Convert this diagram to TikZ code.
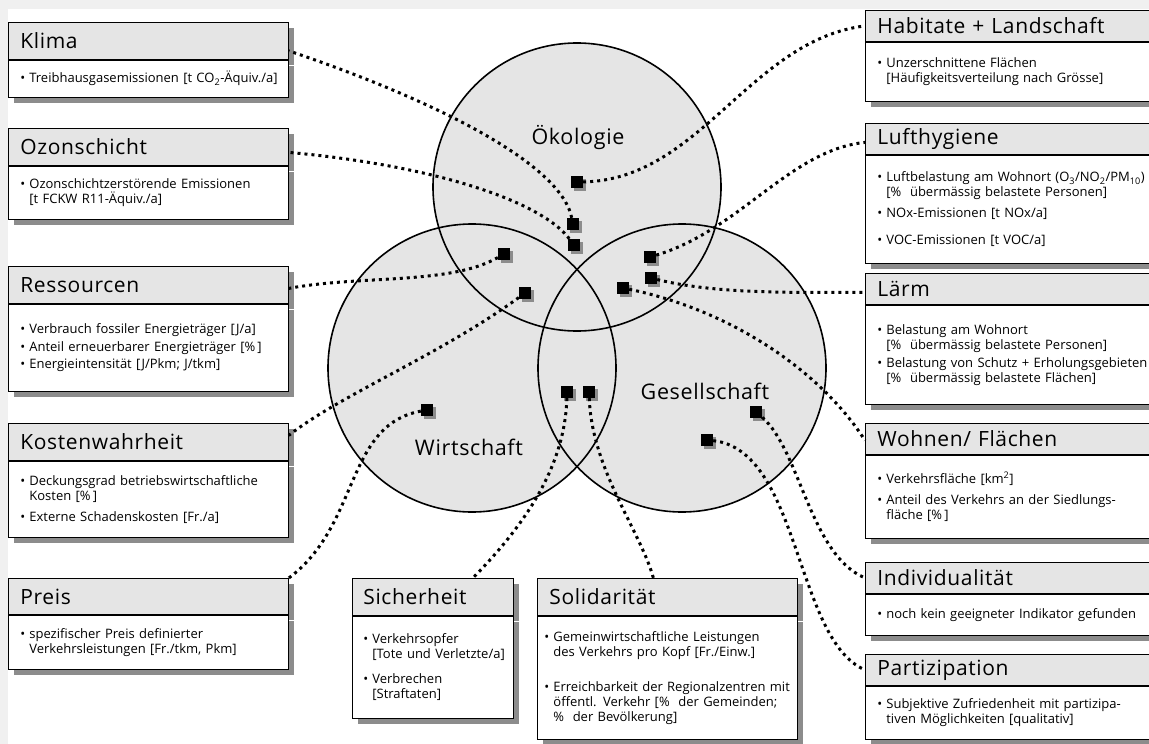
\documentclass[tikz,border=0pt]{standalone}
\usepackage{fontspec}
\setmainfont{Open Sans}
\newfontfamily\headfont{Open Sans}[LetterSpace=3]
\usepackage{tikz}
\usetikzlibrary{shadows}

\definecolor{boxgray}{gray}{0.9}
\definecolor{shadegray}{gray}{0.55}
\definecolor{pagegray}{gray}{0.94}

\newcommand{\itm}{\makebox[9pt][l]{\textbullet}}
\newcommand{\ind}{\hspace*{9pt}}

\tikzset{
  boxshadow/.style={drop shadow={shadow xshift=6pt, shadow yshift=-6pt, fill=shadegray, opacity=1}},
  boxhead/.style={draw, line width=0.8pt, fill=boxgray, anchor=north west, inner xsep=12pt, inner ysep=0pt, align=left, font=\headfont\fontsize{21}{24}\selectfont, boxshadow},
  boxbody/.style={draw, line width=0.8pt, fill=white, anchor=north west, inner xsep=12pt, inner ysep=0pt, align=left, font=\fontsize{13}{15}\selectfont, boxshadow},
  venn/.style={circle, minimum size=288pt, inner sep=0pt},
  venntext/.style={font=\headfont\fontsize{21.5}{24}\selectfont},
  marker/.style={rectangle, fill=black, minimum size=12pt, inner sep=0pt, drop shadow={shadow xshift=2.5pt, shadow yshift=-2.5pt, fill=shadegray, opacity=1}},
  link/.style={line width=3pt, dash pattern=on 3pt off 4pt}
}

\begin{document}
\begin{tikzpicture}[x=1pt, y=-1pt]
    \useasboundingbox (0,0) rectangle (1149,744);
    \clip (0,0) rectangle (1149,744);
    \fill[pagegray] (0,0) rectangle (1149,744);
    \fill[white] (8,9) rectangle (1149,744);

    % the three circles
    \node[venn, fill=boxgray] (oeko) at (577,187) {};
    \node[venn, fill=boxgray] (wirt) at (472,368) {};
    \node[venn, fill=boxgray] (ges) at (682,368) {};
    \node[venn, draw, line width=1.6pt] (oekoR) at (oeko) {};
    \node[venn, draw, line width=1.6pt] (wirtR) at (wirt) {};
    \node[venn, draw, line width=1.6pt] (gesR) at (ges) {};
    \node[venntext] (oekoT) at (578,137) {Ökologie};
    \node[venntext] (wirtT) at (469,447) {Wirtschaft};
    \node[venntext] (gesT) at (705,391) {Gesellschaft};

    % left column
    \node[boxhead, minimum height=37pt, text width=256pt] (klimaH) at (8,22) {Klima};
    \node[boxbody, minimum height=37pt, text width=256pt] (klimaB) at (klimaH.south west)
        {\mbox{\itm Treibhausgasemissionen [t CO\textsubscript{2}-Äquiv./a]}};
    \node[boxhead, minimum height=37pt, text width=256pt] (ozonH) at (8,128) {Ozonschicht};
    \node[boxbody, minimum height=53pt, text width=256pt] (ozonB) at (ozonH.south west)
        {\itm Ozonschichtzerstörende Emissionen\\ \ind[t FCKW R11-Äquiv./a]};
    \node[boxhead, minimum height=37pt, text width=256pt] (ressH) at (8,266) {Ressourcen};
    \node[boxbody, minimum height=87pt, text width=256pt] (ressB) at (ressH.south west)
        {\itm Verbrauch fossiler Energieträger [J/a]\\[2.5pt]
         \itm Anteil erneuerbarer Energieträger [\%\,]\\[2.5pt]
         \itm Energieintensität [J/Pkm; J/tkm]};
    \node[boxhead, minimum height=37pt, text width=256pt] (kostenH) at (8,423) {Kostenwahrheit};
    \node[boxbody, minimum height=76pt, text width=256pt] (kostenB) at (kostenH.south west)
        {\itm Deckungsgrad betriebswirtschaftliche\\ \ind Kosten [\%\,]\\[6pt]
         \itm Externe Schadenskosten [Fr./a]};
    \node[boxhead, minimum height=36pt, text width=256pt] (preisH) at (8,578) {Preis};
    \node[boxbody, minimum height=54pt, text width=256pt] (preisB) at (preisH.south west)
        {\itm spezifischer Preis definierter\\ \ind Verkehrsleistungen [Fr./tkm, Pkm]};

    % right column
    \node[boxhead, minimum height=31pt, text width=271pt] (habH) at (865,10) {Habitate + Landschaft};
    \node[boxbody, minimum height=59pt, text width=271pt] (habB) at (habH.south west)
        {\itm Unzerschnittene Flächen\\ \ind[Häufigkeitsverteilung nach Grösse]};
    \node[boxhead, minimum height=31pt, text width=271pt] (luftH) at (865,123) {Lufthygiene};
    \node[boxbody, minimum height=108pt, text width=271pt] (luftB) at (luftH.south west)
        {\mbox{\itm Luftbelastung am Wohnort (O\textsubscript{3}/NO\textsubscript{2}/PM\textsubscript{10})}\\
         \ind[\%~~übermässig belastete Personen]\\[6pt]
         \itm NOx-Emissionen [t NOx/a]\\[12pt]
         \itm VOC-Emissionen [t VOC/a]};
    \node[boxhead, minimum height=31pt, text width=271pt] (laermH) at (865,273) {Lärm};
    \node[boxbody, minimum height=99pt, text width=271pt] (laermB) at (laermH.south west)
        {\itm Belastung am Wohnort\\ \ind[\%~~übermässig belastete Personen]\\[3pt]
         \mbox{\itm Belastung von Schutz + Erholungsgebieten}\\ \ind[\%~~übermässig belastete Flächen]};
    \node[boxhead, minimum height=31pt, text width=271pt] (wohnenH) at (865,423) {Wohnen/ Flächen};
    \node[boxbody, minimum height=83pt, text width=271pt] (wohnenB) at (wohnenH.south west)
        {\itm Verkehrsfläche [km\textsuperscript{2}]\\[6pt]
         \itm Anteil des Verkehrs an der Siedlungs-\\ \ind fläche [\%\,]};
    \node[boxhead, minimum height=31pt, text width=271pt] (indivH) at (865,562) {Individualität};
    \node[boxbody, minimum height=41pt, text width=271pt] (indivB) at (indivH.south west)
        {\itm noch kein geeigneter Indikator gefunden};
    \node[boxhead, minimum height=31pt, text width=271pt] (partizH) at (865,654) {Partizipation};
    \node[boxbody, minimum height=53pt, text width=271pt] (partizB) at (partizH.south west)
        {\itm Subjektive Zufriedenheit mit partizipa-\\ \ind tiven Möglichkeiten [qualitativ]};

    % bottom row
    \node[boxhead, minimum height=37pt, text width=139pt, inner xsep=11pt] (sicherH) at (352,578) {Sicherheit};
    \node[boxbody, minimum height=102pt, text width=139pt, inner xsep=11pt] (sicherB) at (sicherH.south west)
        {\itm Verkehrsopfer\\ \ind\mbox{[Tote und Verletzte/a]}\\[10pt]
         \itm Verbrechen\\ \ind[Straftaten]};
    \node[boxhead, minimum height=37pt, text width=246pt, inner xsep=7pt] (solidH) at (537,578) {\hspace*{5pt}Solidarität};
    \node[boxbody, minimum height=123pt, text width=246pt, inner xsep=7pt] (solidB) at (solidH.south west)
        {\itm Gemeinwirtschaftliche Leistungen\\ \ind des Verkehrs pro Kopf [Fr./Einw.]\\[20pt]
         \mbox{\itm Erreichbarkeit der Regionalzentren mit}\\ \ind öffentl. Verkehr [\%~~der Gemeinden;\\
         \ind\%~~der Bevölkerung]};

    % markers
    \node[marker] (mkHab) at (577,182) {};
    \node[marker] (mkKlima) at (573,224) {};
    \node[marker] (mkOzon) at (574,245) {};
    \node[marker] (mkRess) at (504,254) {};
    \node[marker] (mkKosten) at (525,293) {};
    \node[marker] (mkLuft) at (650,257) {};
    \node[marker] (mkLaerm) at (651,278) {};
    \node[marker] (mkWohnen) at (623,288) {};
    \node[marker] (mkPreis) at (427,410) {};
    \node[marker] (mkSicher) at (567,392) {};
    \node[marker] (mkSolid) at (589,392) {};
    \node[marker] (mkIndiv) at (756,412) {};
    \node[marker] (mkPartiz) at (707,440) {};

    % connectors
    \draw[link] (mkKlima) .. controls (560,160) and (420,95) .. ([yshift=-10pt]klimaH.east);
    \draw[link] (mkOzon) .. controls (540,200) and (430,165) .. ([yshift=-5.5pt]ozonH.east);
    \draw[link] (mkRess) .. controls (450,285) and (360,275) .. ([yshift=-3.5pt]ressH.east);
    \draw[link] (mkKosten) .. controls (440,355) and (340,395) .. ([yshift=6.5pt]kostenH.east);
    \draw[link] (mkPreis) .. controls (345,425) and (360,525) .. (preisH.north east);
    \draw[link] (mkSicher) .. controls (565,470) and (520,530) .. ([xshift=40pt]sicherH.north);
    \draw[link] (mkSolid) .. controls (592,470) and (640,530) .. ([xshift=-14pt]solidH.north);
    \draw[link] (mkHab) .. controls (700,180) and (750,40) .. (habH.west);
    \draw[link] (mkLuft) .. controls (740,230) and (790,150) .. ([yshift=-3.5pt]luftH.west);
    \draw[link] (mkLaerm) .. controls (720,295) and (800,292) .. ([yshift=-3.5pt]laermH.west);
    \draw[link] (mkWohnen) .. controls (730,310) and (820,370) .. ([yshift=-1.5pt]wohnenH.west);
    \draw[link] (mkIndiv) .. controls (800,450) and (810,555) .. (indivH.west);
    \draw[link] (mkPartiz) .. controls (800,450) and (795,640) .. (partizH.west);
\end{tikzpicture}
\end{document}
